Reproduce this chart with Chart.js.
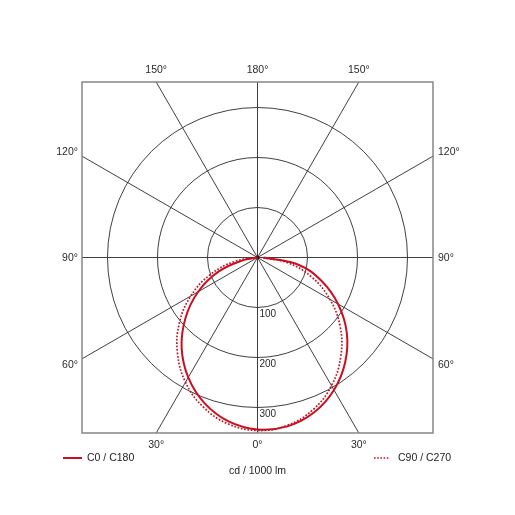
<!DOCTYPE html>
<html>
<head>
<meta charset="utf-8">
<script src="https://cdn.jsdelivr.net/npm/chart.js@4.4.1/dist/chart.umd.min.js"></script>
<style>
html,body{margin:0;padding:0;background:#fff;}
#wrap{width:515px;height:515px;}
</style>
</head>
<body>
<div id="wrap"><canvas id="c" width="515" height="515"></canvas></div>
<script>
// gamma angles (deg) of the measured intensities
const gammaAngles = [0, 10, 20, 30, 40, 50, 60, 70, 80, 90];
// luminous intensity, cd / 1000 lm
const c0Values   = [344, 343, 330, 306, 273, 233, 186, 136, 83, 12];
const c180Values = [344, 333, 310, 277, 236, 188, 137, 83, 27, 0];
const c90Values  = [346, 341, 324, 296, 259, 216, 167, 116, 62, 7];
const c270Values = [346, 338, 318, 288, 249, 204, 154, 101, 47, 0];

const ringValues = [100, 200, 300];
const ringLabels = ['100', '200', '300'];
const spokeAngles = [0, 30, 60, 90, 120, 150, 180, 210, 240, 270, 300, 330];
const angleTicks = [0, 30, 60, 90, 120, 150, 180];
const angleTickLabels = ['0°', '30°', '60°', '90°', '120°', '150°', '180°'];
const seriesNames = ['C0 / C180', 'C90 / C270'];
const unitLabel = 'cd / 1000 lm';
const axisLimit = 351;

function planePoints(leftVals, rightVals) {
  const pts = [];
  for (let i = gammaAngles.length - 1; i >= 0; i--) {
    const g = gammaAngles[i] * Math.PI / 180;
    pts.push({x: -leftVals[i] * Math.sin(g), y: -leftVals[i] * Math.cos(g)});
  }
  for (let i = 1; i < gammaAngles.length; i++) {
    const g = gammaAngles[i] * Math.PI / 180;
    pts.push({x: rightVals[i] * Math.sin(g), y: -rightVals[i] * Math.cos(g)});
  }
  return pts;
}

const RED = 'rgb(200,16,32)';
const FONT = '"Liberation Sans", Arial, Helvetica, sans-serif';

const polarGrid = {
  id: 'polarGrid',
  beforeDatasetsDraw(chart) {
    const {ctx, chartArea: a, scales: {x, y}} = chart;
    const cx = x.getPixelForValue(0), cy = y.getPixelForValue(0);
    ctx.save();
    ctx.beginPath();
    ctx.rect(a.left, a.top, a.right - a.left, a.bottom - a.top);
    ctx.clip();
    ctx.strokeStyle = '#2a2a2a';
    ctx.lineWidth = 0.9;
    ringValues.forEach(r => {
      const rp = x.getPixelForValue(r) - cx;
      ctx.beginPath();
      ctx.arc(cx, cy, rp, 0, Math.PI * 2);
      ctx.stroke();
    });
    spokeAngles.forEach(gd => {
      const g = gd * Math.PI / 180;
      const L = 2000;
      ctx.beginPath();
      ctx.moveTo(cx, cy);
      ctx.lineTo(x.getPixelForValue(L * Math.sin(g)), y.getPixelForValue(-L * Math.cos(g)));
      ctx.stroke();
    });
    ctx.fillStyle = '#111';
    ctx.beginPath();
    ctx.arc(cx, cy, 1.7, 0, Math.PI * 2);
    ctx.fill();
    ctx.restore();

    ctx.save();
    ctx.strokeStyle = '#868686';
    ctx.lineWidth = 1.5;
    ctx.strokeRect(a.left, a.top, a.right - a.left, a.bottom - a.top);
    ctx.restore();
  },
  afterDraw(chart) {
    const {ctx, chartArea: a, scales: {x, y}} = chart;
    const cx = x.getPixelForValue(0), cy = y.getPixelForValue(0);
    ctx.save();
    ctx.fillStyle = '#2a2a2a';
    ctx.font = '10.5px ' + FONT;
    angleTicks.forEach((gd, i) => {
      const sides = (gd === 0 || gd === 180) ? [1] : [-1, 1];
      sides.forEach(sd => {
        const g = gd * Math.PI / 180;
        const s = Math.sin(g) * sd, c = Math.cos(g);
        const t = Math.min(Math.abs(s) > 1e-9 ? axisLimit / Math.abs(s) : Infinity,
                           Math.abs(c) > 1e-9 ? axisLimit / Math.abs(c) : Infinity);
        const hx = x.getPixelForValue(t * s), hy = y.getPixelForValue(-t * c);
        const onHoriz = Math.abs(Math.abs(c) * t - axisLimit) < 0.5;
        if (onHoriz) {
          ctx.textAlign = 'center';
          ctx.textBaseline = 'middle';
          const ty = c > 0 ? a.bottom + 12 : a.top - 12;
          ctx.fillText(angleTickLabels[i], hx, ty);
        } else {
          ctx.textBaseline = 'middle';
          const yo = 11 * c + 1;
          if (sd < 0) { ctx.textAlign = 'right'; ctx.fillText(angleTickLabels[i], a.left - 4, hy + yo); }
          else { ctx.textAlign = 'left'; ctx.fillText(angleTickLabels[i], a.right + 5, hy + yo); }
        }
      });
    });
    // ring value labels along the 0° axis
    ctx.font = '10px ' + FONT;
    ctx.textAlign = 'left';
    ctx.textBaseline = 'middle';
    ringValues.forEach((r, i) => {
      ctx.fillText(ringLabels[i], cx + 2, y.getPixelForValue(-r) + 7);
    });
    // legend
    ctx.font = '10.5px ' + FONT;
    ctx.strokeStyle = RED;
    ctx.lineWidth = 2;
    ctx.beginPath(); ctx.moveTo(63, 458); ctx.lineTo(82, 458); ctx.stroke();
    ctx.fillStyle = '#222';
    ctx.textAlign = 'left';
    ctx.fillText(seriesNames[0], 87, 458);
    ctx.lineWidth = 1.6;
    ctx.setLineDash([1.6, 1.6]);
    ctx.beginPath(); ctx.moveTo(374, 458); ctx.lineTo(389, 458); ctx.stroke();
    ctx.setLineDash([]);
    ctx.fillText(seriesNames[1], 398, 458);
    ctx.textAlign = 'center';
    ctx.fillText(unitLabel, cx, 471);
    ctx.restore();
  }
};

new Chart(document.getElementById('c'), {
  type: 'scatter',
  data: {
    datasets: [
      {
        label: seriesNames[0],
        data: planePoints(c180Values, c0Values),
        showLine: true,
        borderColor: RED,
        borderWidth: 2,
        pointRadius: 0,
        tension: 0.4,
        fill: false
      },
      {
        label: seriesNames[1],
        data: planePoints(c270Values, c90Values),
        showLine: true,
        borderColor: RED,
        borderWidth: 1.7,
        borderDash: [1.7, 1.7],
        pointRadius: 0,
        tension: 0.4,
        fill: false
      }
    ]
  },
  options: {
    responsive: false,
    animation: false,
    layout: {padding: {left: 82, right: 82, top: 82, bottom: 82}},
    plugins: {legend: {display: false}, tooltip: {enabled: false}},
    scales: {
      x: {type: 'linear', min: -axisLimit, max: axisLimit, display: false},
      y: {type: 'linear', min: -axisLimit, max: axisLimit, display: false}
    }
  },
  plugins: [polarGrid]
});
</script>
</body>
</html>
